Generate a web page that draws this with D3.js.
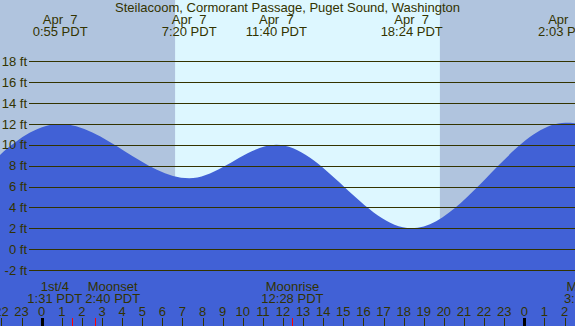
<!DOCTYPE html>
<html>
<head>
<meta charset="utf-8">
<script src="https://cdn.jsdelivr.net/npm/d3@7"></script>
<style>
  html, body { margin: 0; padding: 0; background: #fff; }
  svg { display: block; }
  text { font-family: "Liberation Sans", Arial, sans-serif; white-space: pre; }
</style>
</head>
<body>
<div class="chart"></div>
<script>
// 조위 데이터 (시각은 Apr 7 00:00 기준)
const title = 'Steilacoom, Cormorant Passage, Puget Sound, Washington';
const tideTimes = ['Apr 6 19:20', 'Apr 7 0:55', 'Apr 7 7:20', 'Apr 7 11:40', 'Apr 7 18:24', 'Apr 8 2:03', 'Apr 8 8:40'];
const tideHeights = [3.6, 12.0, 6.8, 10.0, 2.0, 12.1, 6.5];
const sunTimes = ['Apr 7 6:38', 'Apr 7 19:48'];   // 일출, 일몰
const moonNames = ['1st/4', 'Moonset', 'Moonrise', 'Moonset'];
const moonTimes = ['Apr 7 1:31', 'Apr 7 2:40', 'Apr 7 12:28', 'Apr 8 3:20'];
const yTicks = [-2, 0, 2, 4, 6, 8, 10, 12, 14, 16, 18];

const W = 575, H = 326;
const FS = 13;
const textColor = '#333300';
const nightColor = '#b0c4de';
const dayColor = '#ddf7ff';
const waterColor = '#4161d6';

// "Apr 7 0:55" -> Apr 7 00:00 기준 시간
const toHour = s => {
  const [, d, t] = s.split(' ');
  const [h, m] = t.split(':').map(Number);
  return (Number(d) - 7) * 24 + h + m / 60;
};
const clock = s => s.split(' ')[2];
const dateLabel = s => {
  const p = s.split(' ');
  return `${p[0]} ${p[1].padStart(2, ' ')}`;
};

const x = d3.scaleLinear().domain([-2.074, 26.52]).range([0, W]);
const y = d3.scaleLinear().domain([-2, 18]).range([270, 61.3]);

const svg = d3.select('.chart').append('svg')
  .attr('width', W).attr('height', H)
  .attr('viewBox', [0, 0, W, H]);

/******************** 배경 (밤 / 낮) ********************/
svg.append('rect').attr('width', W).attr('height', H).attr('fill', nightColor);
const sun = sunTimes.map(toHour);
svg.append('rect')
  .attr('x', x(sun[0])).attr('y', 0)
  .attr('width', x(sun[1]) - x(sun[0])).attr('height', H)
  .attr('fill', dayColor);

/******************** 조위 곡선 ********************/
const tide = tideTimes.map((t, i) => ({ h: toHour(t), v: tideHeights[i], t }));
const area = d3.area()
  .x(d => x(d.h))
  .y0(H)
  .y1(d => y(d.v))
  .curve(d3.curveMonotoneX);
svg.append('path')
  .datum(tide)
  .attr('d', area)
  .attr('fill', waterColor);

/******************** 격자선 + y축 ********************/
const grid = svg.append('g');
grid.selectAll('line')
  .data(yTicks)
  .join('line')
    .attr('x1', 29).attr('x2', W)
    .attr('y1', d => Math.round(y(d)) + 0.5)
    .attr('y2', d => Math.round(y(d)) + 0.5)
    .attr('stroke', textColor)
    .attr('stroke-width', 1);
grid.selectAll('text')
  .data(yTicks)
  .join('text')
    .attr('x', 27)
    .attr('y', d => y(d))
    .attr('dy', '0.36em')
    .attr('text-anchor', 'end')
    .attr('font-size', FS)
    .attr('fill', textColor)
    .text(d => `${d} ft`);

/******************** 제목 + 만조/간조 레이블 ********************/
svg.append('text')
  .attr('x', W / 2).attr('y', 12)
  .attr('text-anchor', 'middle')
  .attr('font-size', FS)
  .attr('fill', textColor)
  .text(title);

const shown = tide.filter(d => x(d.h) > 0 && x(d.h) < W);
const topG = svg.append('g').attr('font-size', FS).attr('fill', textColor).attr('text-anchor', 'middle');
topG.selectAll('text.date')
  .data(shown)
  .join('text')
    .attr('class', 'date')
    .attr('x', d => x(d.h)).attr('y', 24)
    .text(d => dateLabel(d.t));
topG.selectAll('text.time')
  .data(shown)
  .join('text')
    .attr('class', 'time')
    .attr('x', d => x(d.h)).attr('y', 36)
    .text(d => `${clock(d.t)} PDT`);

/******************** 시간 축 ********************/
const hours = d3.range(Math.ceil(x.domain()[0]) - 1, Math.floor(x.domain()[1]) + 2);
const isMidnight = d => ((d % 24) + 24) % 24 === 0;
const axis = svg.append('g');
axis.selectAll('line')
  .data(hours)
  .join('line')
    .attr('x1', d => Math.round(x(d)) + 0.5).attr('x2', d => Math.round(x(d)) + 0.5)
    .attr('y1', 318).attr('y2', H)
    .attr('stroke', d => isMidnight(d) ? '#000' : textColor)
    .attr('stroke-width', d => isMidnight(d) ? 3 : 1);
axis.selectAll('text')
  .data(hours)
  .join('text')
    .attr('x', d => x(d)).attr('y', 316)
    .attr('text-anchor', 'middle')
    .attr('font-size', FS)
    .attr('fill', textColor)
    .text(d => ((d % 24) + 24) % 24);

/******************** 달 이벤트 ********************/
const moon = moonTimes.map((t, i) => ({ h: toHour(t), name: moonNames[i], time: `${clock(t)} PDT` }));
svg.append('g')
  .selectAll('line')
  .data(moon)
  .join('line')
    .attr('x1', d => Math.round(x(d.h)) + 0.5).attr('x2', d => Math.round(x(d.h)) + 0.5)
    .attr('y1', 318).attr('y2', H)
    .attr('stroke', '#ff0000');

const moonG = svg.append('g').attr('font-size', FS).attr('fill', textColor).attr('text-anchor', 'middle');
const moonLabels = moonG.selectAll('g')
  .data(moon)
  .join('g');
moonLabels.append('text').attr('class', 'name').attr('y', 291).text(d => d.name);
moonLabels.append('text').attr('class', 'time').attr('y', 303).text(d => d.time);

// 겹치는 레이블은 좌우로 밀어냄
moon.forEach(d => { d.cx = x(d.h); });
moonLabels.each(function(d) {
  d.w = Math.max(...Array.from(this.querySelectorAll('text')).map(t => t.getComputedTextLength()));
});
for (let i = 1; i < moon.length; i++) {
  const a = moon[i - 1], b = moon[i];
  const need = (a.w + b.w) / 2 + 3;
  if (b.cx - a.cx < need) {
    const mid = (a.cx + b.cx) / 2;
    a.cx = mid - need / 2;
    b.cx = mid + need / 2;
  }
}
moonLabels.selectAll('text').attr('x', function() { return d3.select(this.parentNode).datum().cx; });
</script>
</body>
</html>
